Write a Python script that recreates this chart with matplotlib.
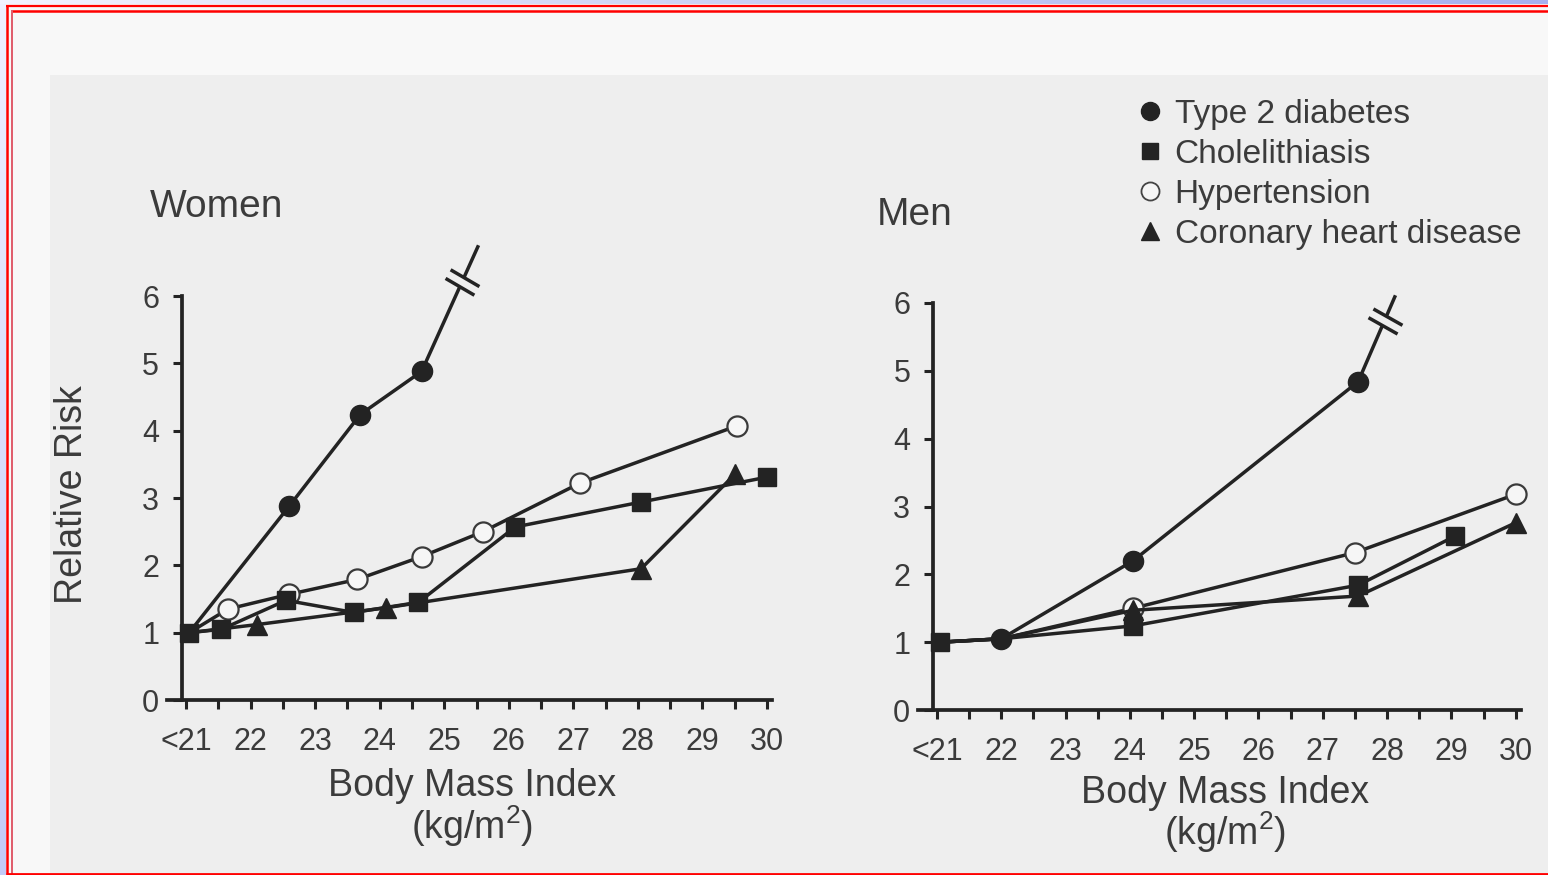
import numpy as np
import matplotlib
matplotlib.use("Agg")
import matplotlib.pyplot as plt
from matplotlib.lines import Line2D
from matplotlib.path import Path
from matplotlib.markers import MarkerStyle
from matplotlib.transforms import Affine2D

plt.rcParams['font.family'] = ['Liberation Sans', 'DejaVu Sans']
plt.rcParams['mathtext.default'] = 'regular'

# ---------------- data ----------------
bmi_ticks = [21, 22, 23, 24, 25, 26, 27, 28, 29, 30]
bmi_labels = ['<21', '22', '23', '24', '25', '26', '27', '28', '29', '30']
risk_ticks = [0, 1, 2, 3, 4, 5, 6]

series_names = ['Type 2 diabetes', 'Cholelithiasis', 'Hypertension',
                'Coronary heart disease']

# Women (last diabetes value lies beyond the axis -> drawn with a break)
w_diab_x = [21.05, 22.6, 23.7, 24.65, 25.52]
w_diab_y = [1.0, 2.88, 4.24, 4.88, 6.73]
w_chole_x = [21.05, 21.55, 22.55, 23.6, 24.6, 26.1, 28.05, 30.0]
w_chole_y = [1.0, 1.05, 1.48, 1.3, 1.45, 2.57, 2.94, 3.31]
w_hyper_x = [21.05, 21.65, 22.6, 23.65, 24.65, 25.6, 27.1, 29.53]
w_hyper_y = [1.0, 1.35, 1.57, 1.79, 2.13, 2.5, 3.22, 4.07]
w_chd_x = [21.05, 22.1, 24.1, 28.05, 29.5]
w_chd_y = [1.0, 1.12, 1.37, 1.95, 3.35]

# Men
m_diab_x = [21.05, 22.0, 24.05, 27.55, 28.12]
m_diab_y = [1.0, 1.05, 2.2, 4.84, 6.09]
m_chole_x = [21.05, 22.0, 24.05, 27.55, 29.05]
m_chole_y = [1.0, 1.05, 1.24, 1.84, 2.56]
m_hyper_x = [21.05, 22.0, 24.05, 27.5, 30.0]
m_hyper_y = [1.0, 1.05, 1.5, 2.32, 3.18]
m_chd_x = [21.05, 22.0, 24.05, 27.55, 30.0]
m_chd_y = [1.0, 1.05, 1.47, 1.68, 2.76]

# ---------------- style ----------------
W, H = 1548, 875
INK = '#232323'
TXT = '#3b3b3b'
PAPER = '#f8f8f8'
SCAN = '#eeeeee'
LW = 2.5


def fx(px):
    return px / W


def fy(py):
    return 1 - py / H


fig = plt.figure(figsize=(W / 100, H / 100), dpi=100, facecolor=PAPER)

# page decoration: scanned area, frame lines, top/left colour bands
bg = fig.add_axes([0, 0, 1, 1], zorder=-10)
bg.set_xlim(0, W)
bg.set_ylim(H, 0)
bg.axis('off')
bg.add_patch(plt.Rectangle((50, 75), W - 50, H - 75, color=SCAN, lw=0))
top_grad = np.linspace(0, 1, 256)[None, :]
top_cmap = matplotlib.colors.LinearSegmentedColormap.from_list(
    'band', ['#f2f3ff', '#c8cff6', '#a6b0f0'])
bg.imshow(top_grad, extent=(0, W, 4.5, 0), aspect='auto', cmap=top_cmap,
          interpolation='bilinear')
left_grad = np.linspace(0, 1, 256)[:, None]
left_cmap = matplotlib.colors.LinearSegmentedColormap.from_list(
    'lband', ['#eef0ff', '#c3cbf8'])
bg.imshow(left_grad, extent=(0, 5.5, H, 4.5), aspect='auto', cmap=left_cmap,
          interpolation='bilinear')
bg.set_xlim(0, W)
bg.set_ylim(H, 0)
red = '#ff0000'
bg.plot([6, W], [5.8, 5.8], color=red, lw=1.6, solid_capstyle='butt')
bg.plot([7.2, 7.2], [5.0, H], color=red, lw=1.8, solid_capstyle='butt')
bg.plot([11.5, W], [11.2, 11.2], color=red, lw=1.8, solid_capstyle='butt')
bg.plot([12.2, 12.2], [10.4, H], color='#e05a6a', lw=1.4,
        solid_capstyle='butt')
bg.plot([6, W], [874, 874], color=red, lw=2.0, solid_capstyle='butt')


def style_axes(ax):
    ax.set_facecolor('none')
    ax.set_xlim(20.7, 30.08)
    ax.set_ylim(0, 6)
    ax.spines['top'].set_visible(False)
    ax.spines['right'].set_visible(False)
    ax.spines['left'].set_position(('data', 20.94))
    for s in ('left', 'bottom'):
        ax.spines[s].set_linewidth(2.7)
        ax.spines[s].set_color(INK)
        ax.spines[s].set_capstyle('projecting')
    ax.set_xticks(bmi_ticks)
    ax.set_xticklabels(bmi_labels)
    ax.set_xticks(np.arange(21.5, 30, 1.0), minor=True)
    ax.set_yticks(risk_ticks)
    ax.tick_params(axis='both', which='both', direction='out', length=6.5,
                   width=2.2, color=INK, labelcolor=TXT, labelsize=22)
    ax.tick_params(axis='x', which='both', pad=13)
    ax.tick_params(axis='y', pad=10)


def draw_series(ax, xs, ys, marker, ms, face, edge, mew, every, z):
    ax.plot(xs, ys, color=INK, lw=LW, marker=marker, ms=ms, mfc=face,
            mec=edge, mew=mew, markevery=every, zorder=z, clip_on=False,
            solid_joinstyle='round')


def axis_break(ax, xs, ys, frac=0.72):
    # "//" symbol on the segment that runs off the top of the scale
    x0, y0, x1, y1 = xs[-2], ys[-2], xs[-1], ys[-1]
    bx = x0 + frac * (x1 - x0)
    by = y0 + frac * (y1 - y0)
    p0 = ax.transData.transform((x0, y0))
    p1 = ax.transData.transform((x1, y1))
    ang = np.degrees(np.arctan2(p1[1] - p0[1], p1[0] - p0[0])) - 6
    h, g = 1.0, 0.3
    gap = Path([(-g, -h), (g, -h), (g, h), (-g, h), (-g, -h)], closed=True)
    bars = Path([(-g, -h), (-g, h), (g, -h), (g, h)],
                [Path.MOVETO, Path.LINETO, Path.MOVETO, Path.LINETO])
    rot = Affine2D().rotate_deg(ang)
    ax.plot(bx, by, ls='none', marker=MarkerStyle(gap, transform=rot), ms=24,
            mfc=SCAN, mec='none', clip_on=False, zorder=8)
    ax.plot(bx, by, ls='none', marker=MarkerStyle(bars, transform=rot), ms=24,
            mfc='none', mec=INK, mew=2.5, clip_on=False, zorder=9)


# ---------------- women ----------------
axw = fig.add_axes([fx(166.6), fy(700), (772.2 - 166.6) / W, (700 - 296) / H])
style_axes(axw)
draw_series(axw, w_hyper_x, w_hyper_y, 'o', 14.5, '#f6f6f6', '#3a3a3a', 1.6,
            slice(1, None), 3)
draw_series(axw, w_chd_x, w_chd_y, '^', 14, INK, INK, 1.0, slice(1, None), 4)
draw_series(axw, w_diab_x, w_diab_y, 'o', 14.5, INK, INK, 1.0,
            list(range(1, len(w_diab_x) - 1)), 5)
draw_series(axw, w_chole_x, w_chole_y, 's', 13, INK, INK, 1.0,
            slice(0, None), 6)
axis_break(axw, w_diab_x, w_diab_y)

# ---------------- men ----------------
axm = fig.add_axes([fx(917.7), fy(710), (1520.8 - 917.7) / W, (710 - 303) / H])
style_axes(axm)
draw_series(axm, m_hyper_x, m_hyper_y, 'o', 14.5, '#f6f6f6', '#3a3a3a', 1.6,
            slice(2, None), 3)
draw_series(axm, m_chd_x, m_chd_y, '^', 14, INK, INK, 1.0, slice(2, None), 4)
draw_series(axm, m_chole_x, m_chole_y, 's', 13, INK, INK, 1.0,
            [0, 2, 3, 4], 5)
draw_series(axm, m_diab_x, m_diab_y, 'o', 14.5, INK, INK, 1.0,
            list(range(1, len(m_diab_x) - 1)), 6)
axis_break(axm, m_diab_x, m_diab_y)

# ---------------- text ----------------
fig.text(fx(150), fy(207), 'Women', fontsize=28, color=TXT, ha='left',
         va='center')
fig.text(fx(877), fy(215), 'Men', fontsize=28, color=TXT, ha='left',
         va='center')
fig.text(fx(72), fy(495), 'Relative Risk', fontsize=27, color=TXT,
         rotation=90, ha='center', va='center')
fig.text(fx(472), fy(786), 'Body Mass Index', fontsize=27, color=TXT,
         ha='center', va='center')
fig.text(fx(472), fy(826), '(kg/m$^{2}$)', fontsize=27, color=TXT,
         ha='center', va='center')
fig.text(fx(1225), fy(793), 'Body Mass Index', fontsize=27, color=TXT,
         ha='center', va='center')
fig.text(fx(1225), fy(832), '(kg/m$^{2}$)', fontsize=27, color=TXT,
         ha='center', va='center')

# ---------------- legend ----------------
handles = [
    Line2D([], [], ls='none', marker='o', ms=13, mfc=INK, mec=INK),
    Line2D([], [], ls='none', marker='s', ms=11.5, mfc=INK, mec=INK),
    Line2D([], [], ls='none', marker='o', ms=13, mfc='#f6f6f6', mec='#444444',
           mew=1.3),
    Line2D([], [], ls='none', marker='^', ms=13, mfc=INK, mec=INK),
]
leg = fig.legend(handles, series_names, loc='upper left',
                 bbox_to_anchor=(fx(1133), fy(99)), frameon=False,
                 fontsize=24, handlelength=1.0, handletextpad=0.25,
                 labelspacing=0.27, borderpad=0, borderaxespad=0)
for t in leg.get_texts():
    t.set_color(TXT)

fig.savefig('out.png', dpi=100, facecolor=fig.get_facecolor())
